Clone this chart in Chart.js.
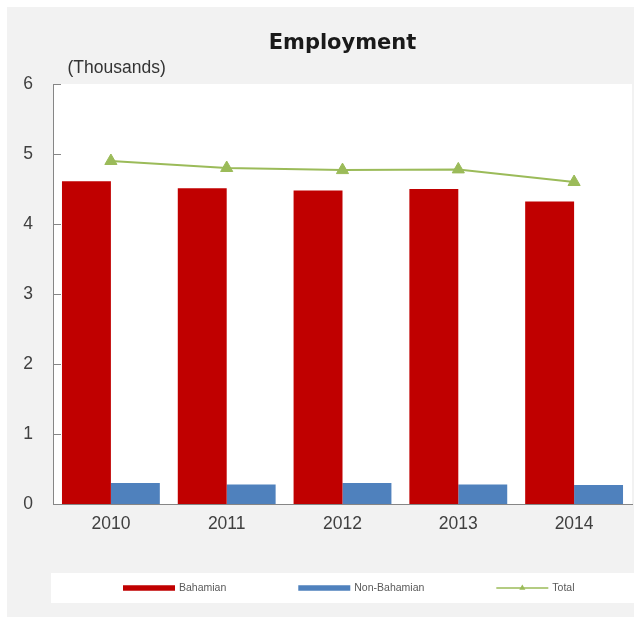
<!DOCTYPE html>
<html><head><meta charset="utf-8">
<script src="https://cdn.jsdelivr.net/npm/chart.js@4.4.1/dist/chart.umd.min.js"></script>
<style>html,body{margin:0;padding:0;background:#fff}canvas{display:block}</style>
</head><body>
<canvas id="c" width="634" height="619"></canvas>
<script>
const categories = ['2010', '2011', '2012', '2013', '2014'];
const bahamian = [4.61, 4.51, 4.48, 4.50, 4.32];
const nonBahamian = [0.30, 0.28, 0.30, 0.28, 0.27];
const total = [4.90, 4.80, 4.77, 4.78, 4.60];
const yTicks = [0, 1, 2, 3, 4, 5, 6];
const seriesNames = ['Bahamian', 'Non-Bahamian', 'Total'];
const chartTitle = 'Employment';
const unitLabel = '(Thousands)';

const SANS = '"Liberation Sans", Arial, sans-serif';

const decor = {
  id: 'decor',
  beforeDraw(chart) {
    const {ctx, chartArea: a, width, height} = chart;
    ctx.save();
    ctx.fillStyle = '#ffffff';
    ctx.fillRect(0, 0, width, height);
    ctx.fillStyle = '#f2f2f2';
    ctx.fillRect(7, 7, width - 7, 610);
    ctx.fillStyle = '#ffffff';
    ctx.fillRect(a.left, a.top, a.right - a.left, a.bottom - a.top);
    ctx.fillRect(a.left - 2, 573, width - a.left + 2, 30);
    ctx.restore();
  },
  afterDraw(chart) {
    const {ctx, chartArea: a} = chart;
    ctx.save();
    // unit label
    ctx.font = '17.5px ' + SANS;
    ctx.fillStyle = '#333333';
    ctx.textBaseline = 'middle';
    ctx.textAlign = 'left';
    ctx.fillText(unitLabel, a.left + 14.5, 68);
    // inner tick marks on the y axis
    const ys = chart.scales.y;
    ctx.strokeStyle = '#868686';
    ctx.lineWidth = 1;
    ys.ticks.forEach(t => {
      const py = Math.round(ys.getPixelForValue(t.value)) + 0.5;
      ctx.beginPath();
      ctx.moveTo(a.left, py);
      ctx.lineTo(a.left + 8, py);
      ctx.stroke();
    });
    // legend
    ctx.font = '10.5px ' + SANS;
    let x = a.left + 70;
    const y = 588;
    chart.data.datasets.forEach(d => {
      if (d.type === 'line') {
        ctx.strokeStyle = d.borderColor;
        ctx.lineWidth = 1.5;
        ctx.beginPath();
        ctx.moveTo(x, y);
        ctx.lineTo(x + 52, y);
        ctx.stroke();
        const cx = x + 26, r = 3.5;
        ctx.fillStyle = d.backgroundColor;
        ctx.beginPath();
        ctx.moveTo(cx, y - r);
        ctx.lineTo(cx + r * 0.866, y + r / 2);
        ctx.lineTo(cx - r * 0.866, y + r / 2);
        ctx.closePath();
        ctx.fill();
      } else {
        ctx.fillStyle = d.backgroundColor;
        ctx.fillRect(x, y - 2.75, 52, 5.5);
      }
      ctx.fillStyle = '#595959';
      ctx.fillText(d.label, x + 56, y);
      x += 56 + ctx.measureText(d.label).width + 72;
    });
    ctx.restore();
  }
};

new Chart(document.getElementById('c'), {
  type: 'bar',
  data: {
    labels: categories,
    datasets: [
      {type: 'bar', label: seriesNames[0], data: bahamian, backgroundColor: '#c00000', order: 1,
       categoryPercentage: 0.845, barPercentage: 1.0},
      {type: 'bar', label: seriesNames[1], data: nonBahamian, backgroundColor: '#4f81bd', order: 1,
       categoryPercentage: 0.845, barPercentage: 1.0},
      {type: 'line', label: seriesNames[2], data: total, borderColor: '#9bbb59', backgroundColor: '#9bbb59',
       borderWidth: 2, pointStyle: 'triangle', pointRadius: 7, pointBorderWidth: 1, tension: 0, order: 0}
    ]
  },
  options: {
    responsive: false,
    devicePixelRatio: 1,
    animation: false,
    layout: {autoPadding: false, padding: {left: 0, right: 2, top: 0, bottom: 85}},
    plugins: {
      legend: {display: false},
      tooltip: {enabled: false},
      title: {
        display: true, text: chartTitle, fullSize: false,
        font: {family: '"DejaVu Sans"', weight: 'bold', size: 21, lineHeight: 1.2},
        color: '#1a1a1a',
        padding: {top: 31.4, bottom: 27.4}
      }
    },
    scales: {
      x: {
        type: 'category',
        offset: true,
        grid: {display: false, drawTicks: false},
        border: {display: true, color: '#868686', width: 1},
        ticks: {color: '#404040', padding: 10, font: {family: SANS, size: 17.5}},
        afterFit: s => { s.height = 30; }
      },
      y: {
        min: 0, max: 6,
        grid: {display: false, drawTicks: false},
        border: {display: true, color: '#868686', width: 1},
        ticks: {color: '#404040', padding: 20, font: {family: SANS, size: 17.5}},
        afterBuildTicks: s => { s.ticks = yTicks.map(v => ({value: v})); },
        afterFit: s => { s.width = 53; }
      }
    }
  },
  plugins: [decor]
});
</script>
</body></html>
